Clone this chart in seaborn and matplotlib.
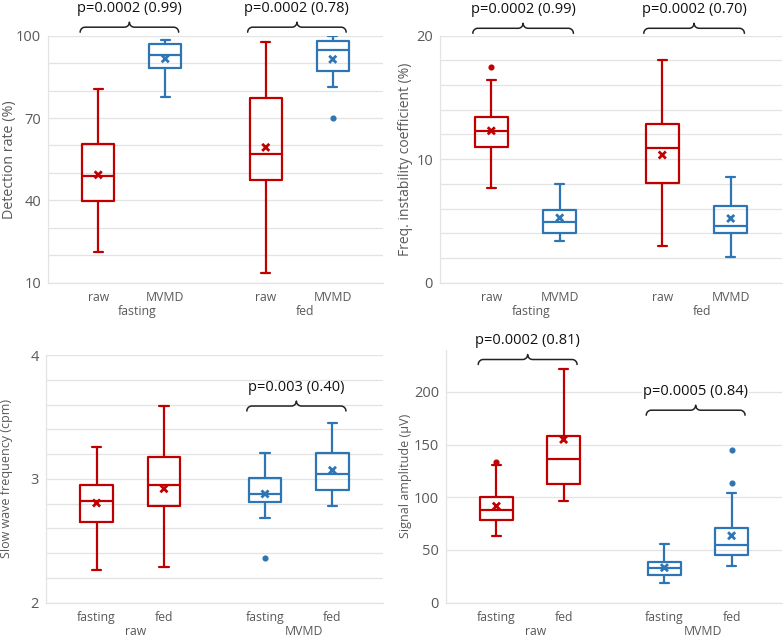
import numpy as np
import pandas as pd
import matplotlib
matplotlib.use("Agg")
import matplotlib.pyplot as plt
import seaborn as sns
from matplotlib.transforms import blended_transform_factory

RED = "#C00000"
BLUE = "#2E75B6"
GRID = "#E3E3E3"
TICK = "#595959"

# posiciones de las cajas (dos grupos de dos)
posiciones = [0, 1, 2.5, 3.5]

# panel 1: tasa de deteccion
det_lo = [21.3, 77.8, 13.6, 81.4]
det_q1 = [39.9, 88.3, 47.4, 87.2]
det_med = [49.0, 93.0, 56.9, 94.8]
det_q3 = [60.5, 96.8, 77.2, 98.2]
det_hi = [80.4, 98.4, 97.7, 100.0]
det_mean = [49.3, 91.6, 59.3, 91.4]
det_out = [[], [], [], [69.9]]

# panel 2: coeficiente de inestabilidad
fic_lo = [7.7, 3.34, 2.99, 2.07]
fic_q1 = [10.96, 4.06, 8.05, 4.01]
fic_med = [12.27, 4.95, 10.87, 4.58]
fic_q3 = [13.43, 5.87, 12.87, 6.19]
fic_hi = [16.4, 8.0, 18.06, 8.56]
fic_mean = [12.3, 5.25, 10.34, 5.2]
fic_out = [[17.5], [], [], []]

# panel 3: frecuencia de onda lenta
swf_lo = [2.26, 2.29, 2.68, 2.78]
swf_q1 = [2.65, 2.78, 2.81, 2.91]
swf_med = [2.82, 2.95, 2.88, 3.04]
swf_q3 = [2.95, 3.18, 3.01, 3.21]
swf_hi = [3.26, 3.59, 3.21, 3.45]
swf_mean = [2.805, 2.92, 2.878, 3.069]
swf_out = [[], [], [2.363], []]

# panel 4: amplitud
amp_lo = [63.2, 96.4, 18.6, 34.8]
amp_q1 = [78.0, 112.2, 26.2, 45.5]
amp_med = [87.5, 136.2, 32.5, 54.3]
amp_q3 = [100.2, 158.6, 38.2, 71.1]
amp_hi = [130.5, 222.1, 55.6, 103.6]
amp_mean = [91.6, 154.8, 33.2, 63.5]
amp_out = [[133.6], [], [], [113.4, 145.3]]

ticks_top = ["raw", "MVMD", "raw", "MVMD"]
grupos_top = ["fasting", "fed"]
ticks_bot = ["fasting", "fed", "fasting", "fed"]
grupos_bot = ["raw", "MVMD"]
colores_top = [RED, BLUE, RED, BLUE]
colores_bot = [RED, RED, BLUE, BLUE]

sns.set_style("white")
plt.rcParams["font.family"] = ["Open Sans", "DejaVu Sans"]

fig = plt.figure(figsize=(7.83, 6.38), dpi=100)
ax1 = fig.add_axes([48 / 783, 1 - 282.7 / 638, 335 / 783, 247 / 638])
ax2 = fig.add_axes([440 / 783, 1 - 282.7 / 638, 342 / 783, 247 / 638])
ax3 = fig.add_axes([46 / 783, 1 - 602.7 / 638, 337 / 783, 247.7 / 638])
ax4 = fig.add_axes([446 / 783, 1 - 602.7 / 638, 336 / 783, 253 / 638])


def dibujar(ax, lo, q1, med, q3, hi, media, out, colores, ylim, major, minor,
            ylabel, ylsize, ylx, ticks, grupos):
    stats = []
    for i in range(4):
        stats.append(dict(whislo=lo[i], q1=q1[i], med=med[i], q3=q3[i],
                          whishi=hi[i], fliers=out[i]))
    for i in range(4):
        c = colores[i]
        ax.bxp([stats[i]], positions=[posiciones[i]], widths=0.48, capwidths=0.14,
               showfliers=True, patch_artist=False,
               boxprops=dict(color=c, linewidth=1.6),
               medianprops=dict(color=c, linewidth=1.6),
               whiskerprops=dict(color=c, linewidth=1.6),
               capprops=dict(color=c, linewidth=1.6),
               flierprops=dict(marker="o", markersize=3.4, markerfacecolor=c,
                               markeredgecolor=c), manage_ticks=False)
    df = pd.DataFrame({"x": posiciones, "y": media, "c": [str(i) for i in range(4)]})
    sns.scatterplot(data=df, x="x", y="y", hue="c",
                    palette={str(i): colores[i] for i in range(4)},
                    marker="x", s=26, linewidth=2, legend=False, ax=ax, zorder=5)
    ax.set_xlim(-0.75, 4.25)
    ax.set_ylim(*ylim)
    ax.set_yticks(major)
    ax.set_yticks(minor, minor=True)
    ax.grid(True, which="both", axis="y", color=GRID, linewidth=0.9)
    ax.set_axisbelow(True)
    for s in ["top", "right"]:
        ax.spines[s].set_visible(False)
    for s in ["left", "bottom"]:
        ax.spines[s].set_color(GRID)
        ax.spines[s].set_linewidth(0.9)
    ax.tick_params(axis="y", which="both", length=0, labelsize=10.5,
                   labelcolor=TICK, pad=5)
    ax.tick_params(axis="x", length=0, labelsize=8.8, labelcolor=TICK, pad=6)
    ax.set_xticks(posiciones)
    ax.set_xticklabels(ticks)
    ax.set_xlabel("")
    ax.set_ylabel(ylabel, fontsize=ylsize, color=TICK)
    ax.yaxis.label.set_verticalalignment("center")
    ax.yaxis.set_label_coords(ylx, 0.5)
    tr = blended_transform_factory(ax.transData, ax.transAxes)
    for g, xc in zip(grupos, [0.58, 3.08]):
        ax.annotate(g, xy=(xc, 0), xycoords=tr, xytext=(0, -20.5),
                    textcoords="offset points", ha="center", va="center",
                    fontsize=8.8, color=TICK, annotation_clip=False)


def llave(ax, x0, x1, y, texto, fondo=False):
    # llave horizontal dibujada en pixeles
    p0 = ax.transData.transform((x0, y))
    p1 = ax.transData.transform((x1, y))
    yl = p0[1]
    r = 5.0
    xm = 0.5 * (p0[0] + p1[0])
    t = np.linspace(0, np.pi / 2, 12)
    xs, ys = [], []
    xs += list(p0[0] + r - r * np.cos(t)); ys += list(yl - r + r * np.sin(t))
    xs += list(xm - r + r * np.sin(t)); ys += list(yl + r - r * np.cos(t))
    xs += list(xm + r - r * np.cos(t)); ys += list(yl + r - r * np.sin(t))
    xs += list(p1[0] - r + r * np.sin(t)); ys += list(yl - r + r * np.cos(t))
    ax.add_line(plt.Line2D(xs, ys, transform=None, color="#222222",
                           linewidth=1.1, clip_on=False))
    tx, ty = fig.transFigure.inverted().transform((xm, yl + 19))
    kw = {}
    if fondo:
        kw["bbox"] = dict(facecolor="white", edgecolor="none", pad=0.5)
    fig.text(tx, ty, texto, ha="center", va="center", fontsize=10.5,
             color="#111111", **kw)


dibujar(ax1, det_lo, det_q1, det_med, det_q3, det_hi, det_mean, det_out,
        colores_top, (10, 100), [10, 40, 70, 100], np.arange(10, 101, 10),
        "Detection rate (%)", 10.3, -0.115, ticks_top, grupos_top)
dibujar(ax2, fic_lo, fic_q1, fic_med, fic_q3, fic_hi, fic_mean, fic_out,
        colores_top, (0, 20), [0, 10, 20], np.arange(0, 20.1, 2),
        "Freq. instability coefficient (%)", 10, -0.102, ticks_top, grupos_top)
dibujar(ax3, swf_lo, swf_q1, swf_med, swf_q3, swf_hi, swf_mean, swf_out,
        colores_bot, (2, 4), [2, 3, 4], np.arange(2, 4.01, 0.2),
        "Slow wave frequency (cpm)", 9, -0.116, ticks_bot, grupos_bot)
dibujar(ax4, amp_lo, amp_q1, amp_med, amp_q3, amp_hi, amp_mean, amp_out,
        colores_bot, (0, 240), [0, 50, 100, 150, 200], np.arange(0, 201, 50),
        "Signal amplitude (µV)", 9, -0.122, ticks_bot, grupos_bot)

llave(ax1, -0.27, 1.2, 103.1, "p=0.0002 (0.99)")
llave(ax1, 2.23, 3.7, 103.1, "p=0.0002 (0.78)")
llave(ax2, -0.27, 1.2, 20.6, "p=0.0002 (0.99)")
llave(ax2, 2.23, 3.7, 20.6, "p=0.0002 (0.70)")
llave(ax3, 2.23, 3.7, 3.588, "p=0.003 (0.40)")
llave(ax4, -0.27, 1.2, 230.7, "p=0.0002 (0.81)")
llave(ax4, 2.23, 3.7, 182.6, "p=0.0005 (0.84)", fondo=True)

fig.savefig("out.png", dpi=100)
